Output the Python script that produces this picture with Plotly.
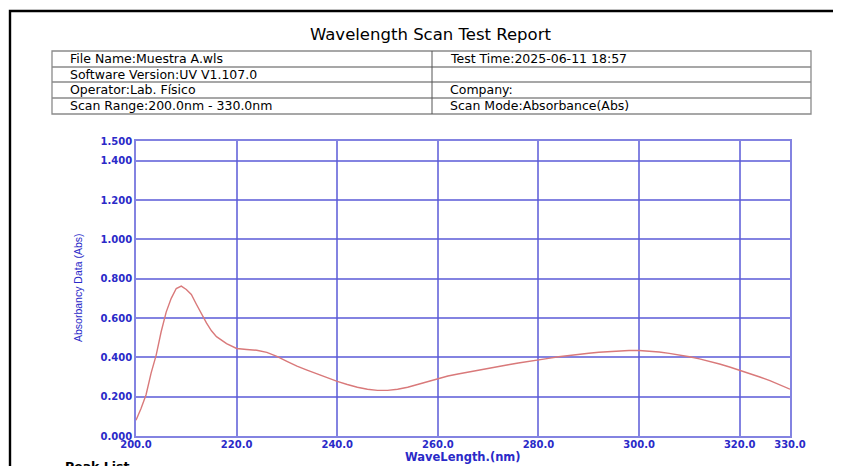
import plotly.graph_objects as go

# The page places the figure 8px from the window's top-left corner,
# so the figure is sized to the remaining window area and positions are
# given in window pixels, shifted by that offset.
OFF = 8
W, H = 841 - OFF, 466 - OFF

wavelength = [200, 201, 202, 203, 204, 205, 206, 207, 208, 209, 210, 211, 212, 213, 214, 215, 216,
              218, 220, 222, 224, 226, 228, 230, 232, 234, 236, 238, 240, 242, 244, 246, 248,
              250, 252, 254, 256, 258, 260, 262, 264, 266, 268, 270, 272, 274, 276, 278, 280,
              282, 284, 286, 288, 290, 292, 294, 296, 298, 300, 302, 304, 306, 308, 310, 312,
              314, 316, 318, 320, 322, 324, 326, 328, 330]
absorbance = [0.080, 0.140, 0.210, 0.320, 0.410, 0.530, 0.630, 0.700, 0.750, 0.762, 0.745, 0.720,
              0.670, 0.620, 0.575, 0.535, 0.505, 0.470, 0.445, 0.440, 0.436, 0.425, 0.405, 0.380,
              0.355, 0.335, 0.315, 0.295, 0.278, 0.262, 0.248, 0.238, 0.232, 0.232, 0.238, 0.248,
              0.262, 0.278, 0.292, 0.305, 0.315, 0.325, 0.334, 0.343, 0.352, 0.362, 0.371, 0.380,
              0.388, 0.395, 0.403, 0.410, 0.416, 0.421, 0.426, 0.430, 0.433, 0.435, 0.435, 0.432,
              0.427, 0.420, 0.412, 0.403, 0.392, 0.380, 0.366, 0.351, 0.335, 0.318, 0.300, 0.282,
              0.262, 0.238]

x_ticks = [200, 220, 240, 260, 280, 300, 320, 330]
x_ticktext = ["200.0", "220.0", "240.0", "260.0", "280.0", "300.0", "320.0", "330.0"]
y_ticks = [0.0, 0.2, 0.4, 0.6, 0.8, 1.0, 1.2, 1.4, 1.5]
y_ticktext = ["0.000", "0.200", "0.400", "0.600", "0.800", "1.000", "1.200", "1.400", "1.500"]

title_text = "Wavelength Scan Test Report"
info_left = ["File Name:Muestra A.wls", "Software Version:UV V1.107.0",
             "Operator:Lab. Físico", "Scan Range:200.0nm - 330.0nm"]
info_right = ["Test Time:2025-06-11 18:57", "", "Company:", "Scan Mode:Absorbance(Abs)"]
x_title = "WaveLength.(nm)"
y_title = "Absorbancy Data (Abs)"


def px(x):
    return (x - OFF) / W


def py(y):
    return 1 - (y - OFF) / H


GRID = "rgba(90,90,215,0.75)"
BLUE = "#2a2ac8"

fig = go.Figure()
fig.add_trace(go.Scatter(x=wavelength, y=absorbance, mode="lines",
                         line=dict(color="#d9797a", width=1.4), hoverinfo="skip"))

shapes = []
# outer frame
shapes.append(dict(type="rect", xref="paper", yref="paper", x0=px(10), x1=px(860), y0=py(490), y1=py(11),
                   line=dict(color="black", width=2.4), fillcolor="rgba(0,0,0,0)"))
# table
TL, TR, TD = 52, 811, 432
rows = [51, 67, 82, 98, 114]
shapes.append(dict(type="rect", xref="paper", yref="paper", x0=px(TL), x1=px(TR), y0=py(rows[-1]), y1=py(rows[0]),
                   line=dict(color="#8a8a8a", width=1.3)))
for r in rows[1:-1]:
    shapes.append(dict(type="line", xref="paper", yref="paper", x0=px(TL), x1=px(TR), y0=py(r), y1=py(r),
                       line=dict(color="#8a8a8a", width=1.3)))
shapes.append(dict(type="line", xref="paper", yref="paper", x0=px(TD), x1=px(TD), y0=py(rows[-1]), y1=py(rows[0]),
                   line=dict(color="#555555", width=1)))

annotations = []
annotations.append(dict(text=title_text, xref="paper", yref="paper", x=px(431), y=py(35),
                        showarrow=False, xanchor="center", yanchor="middle",
                        font=dict(family="DejaVu Sans", size=16.5, color="black")))
for i in range(4):
    yc = (rows[i] + rows[i + 1]) / 2
    annotations.append(dict(text=info_left[i], xref="paper", yref="paper", x=px(68), y=py(yc),
                            showarrow=False, xanchor="left", yanchor="middle",
                            font=dict(family="DejaVu Sans", size=12.5, color="black")))
    if info_right[i]:
        annotations.append(dict(text=info_right[i], xref="paper", yref="paper", x=px(448), y=py(yc),
                                showarrow=False, xanchor="left", yanchor="middle",
                                font=dict(family="DejaVu Sans", size=12.5, color="black")))
annotations.append(dict(text=y_title, xref="paper", yref="paper", x=px(78), y=py(288),
                        showarrow=False, textangle=-90, xanchor="center", yanchor="middle",
                        font=dict(family="Liberation Sans Narrow, Liberation Sans", size=10.5, color=BLUE)))
annotations.append(dict(text=x_title, xref="paper", yref="paper", x=px(463), y=py(457),
                        showarrow=False, xanchor="center", yanchor="middle",
                        font=dict(family="DejaVu Sans", size=11.5, color=BLUE, weight="bold")))
annotations.append(dict(text="Peak List", xref="paper", yref="paper", x=px(63), y=py(457),
                        showarrow=False, xanchor="left", yanchor="top",
                        font=dict(family="DejaVu Sans", size=12.5, color="black", weight="bold")))

fig.update_layout(
    width=W, height=H, autosize=False,
    margin=dict(l=0, r=0, t=0, b=0, pad=0, autoexpand=False),
    paper_bgcolor="white", plot_bgcolor="white",
    showlegend=False,
    shapes=shapes,
    annotations=annotations,
    xaxis=dict(domain=[px(136), px(790)], range=[200, 330], tickvals=x_ticks, ticktext=x_ticktext,
               showgrid=True, gridcolor=GRID, gridwidth=1.6, zeroline=False, automargin=False,
               showline=True, linecolor=GRID, linewidth=1.6, mirror=True, ticks="",
               ticklabelstandoff=-2,
               tickfont=dict(family="DejaVu Sans", size=10, color=BLUE, weight="bold")),
    yaxis=dict(domain=[py(436), py(141)], range=[0, 1.5], tickvals=y_ticks, ticktext=y_ticktext,
               showgrid=True, gridcolor=GRID, gridwidth=1.6, zeroline=False, automargin=False,
               showline=True, linecolor=GRID, linewidth=1.6, mirror=True, ticks="",
               tickfont=dict(family="DejaVu Sans", size=10, color=BLUE, weight="bold")),
)

fig.write_html("out.html")
